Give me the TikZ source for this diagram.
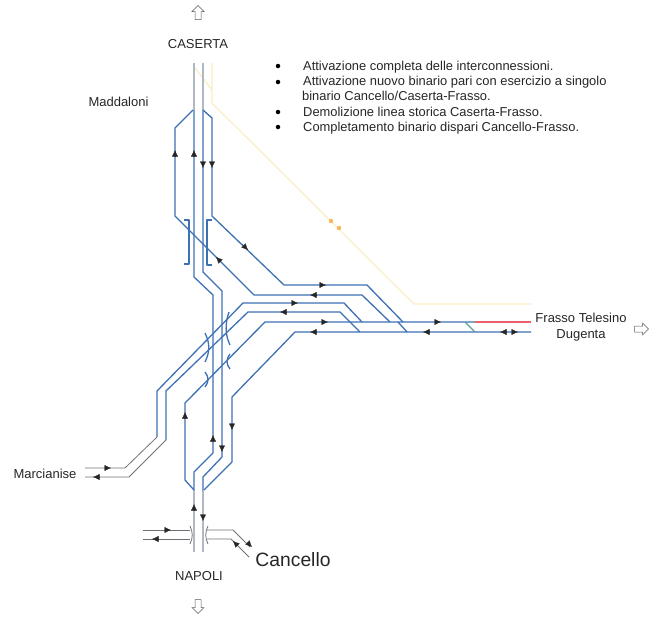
\documentclass[tikz,border=0pt]{standalone}
\usepackage{fontspec}
\setmainfont{Liberation Sans}
\usetikzlibrary{arrows.meta,shapes.arrows}
\definecolor{trackblue}{RGB}{62,112,180}
\definecolor{trackgray}{RGB}{176,184,196}
\definecolor{trackdark}{RGB}{110,114,120}
\definecolor{oldyellow}{RGB}{250,236,196}
\definecolor{newred}{RGB}{236,96,106}
\definecolor{linkgreen}{RGB}{90,160,150}
\definecolor{dotorange}{RGB}{250,180,90}
\tikzset{
  bluetrack/.style={
    draw=trackblue,
    line width=1.3pt,
    line join=round
  },
  graytrack/.style={
    draw=trackgray,
    line width=1.3pt
  },
  darktrack/.style={
    draw=trackdark,
    line width=0.8pt
  },
  oldtrack/.style={
    draw=oldyellow,
    line width=1.2pt
  },
  trainarrow/.style={
    -{Latex[length=6.5pt,width=6pt]},
    line width=0.3pt,
    color=black!85
  },
  placelabel/.style={
    anchor=base,
    inner sep=0pt,
    text=black!85,
    font=\fontsize{13}{15}\selectfont
  },
  notelabel/.style={
    anchor=base west,
    inner sep=0pt,
    text=black!85,
    font=\fontsize{12.9}{15}\selectfont
  },
  notebullet/.style={
    circle,
    fill=black,
    inner sep=0pt,
    minimum size=4.5pt
  },
  wayarrow/.style={
    single arrow,
    draw=black!65,
    line width=0.5pt,
    fill=white,
    inner sep=0pt,
    text height=5.5pt,
    text depth=0pt,
    minimum height=14pt,
    minimum width=11pt,
    single arrow head extend=3pt,
    single arrow head indent=0pt
  }
}

\begin{document}
\begin{tikzpicture}[x=1pt,y=-1pt]
  \useasboundingbox (0,0) rectangle (653,616);
  % old line to Frasso
  \draw[oldtrack] (212,63) -- (212,103) -- (414,304) -- (531,304);
  \draw[oldtrack] (195,68) -- (212,90);
  \fill[dotorange] (331,221) circle (2.2pt) (339,228) circle (2.2pt);
  % straight ends
  \draw[graytrack] (194,63) -- (194,110);
  \draw[graytrack] (203,63) -- (203,110);
  \draw[graytrack] (194,490) -- (194,552);
  \draw[graytrack] (203,490) -- (203,552);
  % Caserta side
  \draw[bluetrack] (193,110) -- (175,128) -- (175,216) -- (254,295) -- (362,295) -- (390,322);
  \draw[bluetrack] (194,110) -- (194,277) -- (213,295) -- (213,453) -- (194,472) -- (194,490);
  \draw[bluetrack] (203,110) -- (203,272) -- (222,291) -- (222,457) -- (203,477) -- (203,490);
  \draw[bluetrack] (203,110) -- (212,118) -- (212,216) -- (284,285) -- (367,285) -- (403,322);
  \draw[bluetrack] (398,322) -- (407,332);
  % Marcianise side
  \draw[bluetrack] (362,322) -- (344,303) -- (243,303) -- (157,391) -- (157,437);
  \draw[bluetrack] (360,332) -- (340,312) -- (248,312) -- (166,391) -- (166,440);
  \draw[darktrack] (157,437) -- (125,468) -- (85,468);
  \draw[darktrack] (166,440) -- (129,477) -- (85,477);
  % Napoli side
  \draw[bluetrack] (475,322) -- (265,322) -- (185,403) -- (185,480) -- (194,490);
  \draw[bluetrack] (531,332) -- (295,332) -- (232,397) -- (232,462) -- (204,490);
  \draw[line width=1.6pt,newred] (475,322) -- (531,322);
  \draw[line width=1.2pt,linkgreen] (465,322) -- (475,332);
  % Cancello stubs
  \draw[darktrack] (143,530) -- (190,530);
  \draw[darktrack] (143,539) -- (190,539);
  \draw[darktrack] (190,526) .. controls (193,532) and (193,538) .. (190,544);
  \draw[darktrack] (208,526) .. controls (205,532) and (205,538) .. (208,544);
  \draw[darktrack] (207,530) -- (233,530) -- (250,547);
  \draw[darktrack] (207,539) -- (231,539) -- (249,557);
  % bridges
  \draw[bluetrack] (184,220) -- (189,220) -- (189,264) -- (184,264);
  \draw[bluetrack] (212,220) -- (207,220) -- (207,265) -- (212,265);
  \draw[bluetrack] (205,333) .. controls (210,343) and (210,352) .. (205,362);
  \draw[bluetrack] (229,312) .. controls (225,323) and (225,335) .. (230,345);
  \draw[bluetrack] (205,372) .. controls (209,377) and (209,382) .. (205,387);
  \draw[bluetrack] (230,354) .. controls (226,359) and (226,364) .. (230,369);
  % running directions
  \foreach \x/\y/\dx/\dy in {175/156/0/-6,194/156/0/-6,203/162/0/6,212/162/0/6,
    242/244/6/6,221/262/-5/-5,320/285/6/0,316/295/-6/0,292/303/6/0,286/312/-6/0,
    322/322/6/0,316/332/-6/0,435/322/6/0,429/332/-6/0,506/332/-6/0,512/332/6/0,
    185/418/0/-6,213/441/0/-6,222/446/0/6,232/424/0/6,105/468/6/0,99/477/-6/0,
    194/510/0/-6,203/515/0/6,165/530/6/0,158/539/-6/0,247/542/5/5,238/546/-5/-5}
    \draw[trainarrow] (\x,\y) -- ++(\dx,\dy);
  % notes
  \foreach \y in {66,82,112,127}
    \node[notebullet] at (278,\y) {};
  \node[notelabel] (noteone) at (303,70) {Attivazione completa delle interconnessioni.};
  \node[notelabel] (notetwo) at (303,85) {Attivazione nuovo binario pari con esercizio a singolo};
  \node[notelabel] (notetwob) at (302,100.5) {binario Cancello/Caserta-Frasso.};
  \node[notelabel] (notethree) at (303,116) {Demolizione linea storica Caserta-Frasso.};
  \node[notelabel] (notefour) at (303,131.5) {Completamento binario dispari Cancello-Frasso.};
  % places
  \node[placelabel] (caserta) at (198,48) {CASERTA};
  \node[placelabel] (maddaloni) at (118.5,106) {Maddaloni};
  \node[placelabel] (frasso) at (581,322) {Frasso Telesino};
  \node[placelabel] (dugenta) at (581,338) {Dugenta};
  \node[placelabel] (marcianise) at (45,478) {Marcianise};
  \node[placelabel] (napoli) at (199,580) {NAPOLI};
  \node[placelabel,font=\fontsize{19.3}{22}\selectfont] (cancello) at (293,566) {Cancello};
  \node[wayarrow,rotate=90] (toCaserta) at (198,14) {};
  \node[wayarrow,rotate=-90] (toNapoli) at (198,605) {};
  \node[wayarrow] (toFrasso) at (640,329) {};
\end{tikzpicture}
\end{document}
